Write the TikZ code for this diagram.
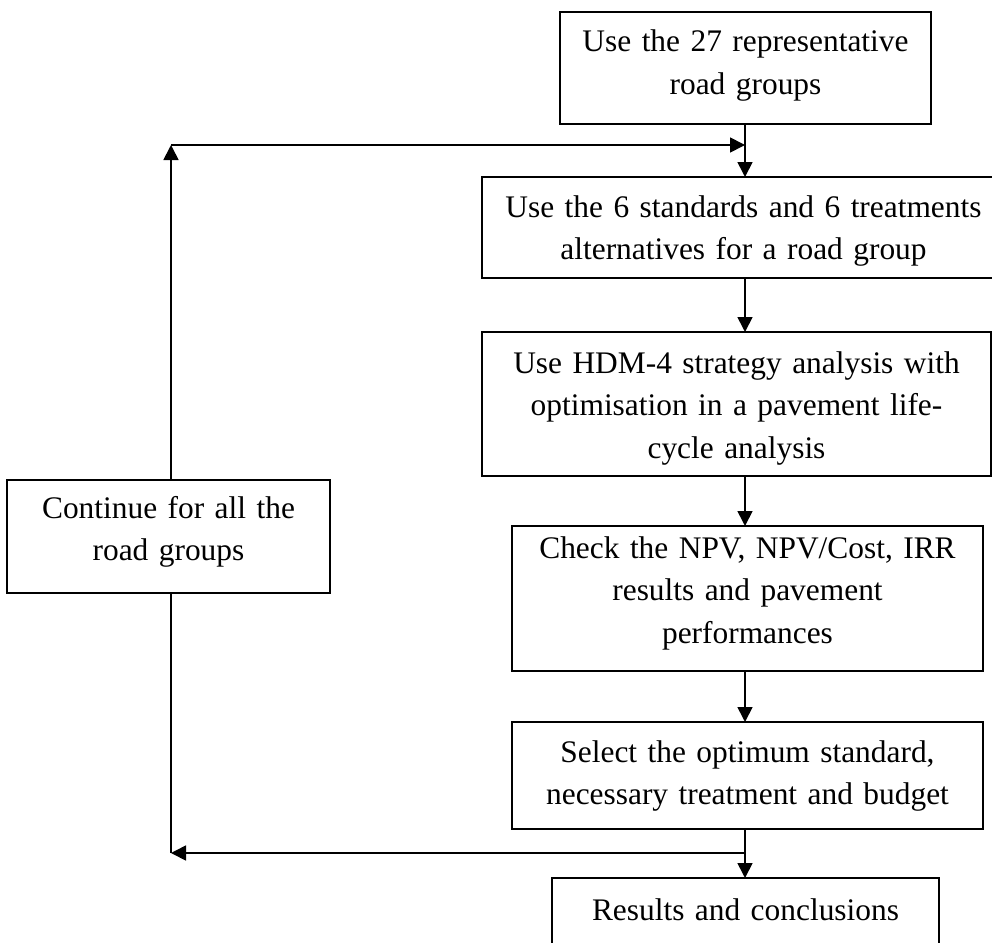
\documentclass[tikz,border=0pt]{standalone}
\usepackage{fontspec}
\setmainfont{Liberation Serif}
\usetikzlibrary{arrows.meta}
\begin{document}
\begin{tikzpicture}[x=1pt, y=-1pt,
  box/.style={draw, line width=1.7pt, inner sep=0pt, outer sep=0pt,
    align=center, anchor=north west, text height=40pt,
    font=\fontsize{31.4}{42.5}\selectfont},
  flow/.style={line width=1.7pt, -{Triangle[length=15pt, width=15pt]}},
  link/.style={line width=1.7pt}]
\useasboundingbox (0,0) rectangle (992,942);

% main column of steps
\node[box, text width=371pt, text depth=72pt]  (b1) at (560,12)  {Use the 27 representative\\road groups};
\node[box, text width=523pt, text depth=61pt]  (b2) at (482,177) {Use the 6 standards and 6 treatments\\alternatives for a road group};
\node[box, text width=509pt, text height=41pt, text depth=103pt] (b3) at (482,332) {Use HDM-4 strategy analysis with\\optimisation in a pavement life-\\cycle analysis};
\node[box, text width=471pt, text height=32pt, text depth=113pt] (b4) at (512,526) {Check the NPV, NPV/Cost, IRR\\results and pavement\\performances};
\node[box, text width=471pt, text depth=67pt]  (b5) at (512,722) {Select the optimum standard,\\necessary treatment and budget};
\node[box, text width=387pt, text height=42pt, text depth=26pt] (b6) at (552,878) {Results and conclusions};

% loop-back box
\node[box, text width=323pt, text height=38pt, text depth=75pt] (lb) at (7,480) {Continue for all the\\road groups};

% routing points
\coordinate (spine) at (745,0);
\coordinate (j1) at (745,145);
\coordinate (j2) at (745,853);
\coordinate (c1) at (171,145);
\coordinate (c2) at (171,853);

% downward flow
\draw[flow] (b1.south -| spine) -- (b2.north -| spine);
\draw[flow] (b2.south -| spine) -- (b3.north -| spine);
\draw[flow] (b3.south -| spine) -- (b4.north -| spine);
\draw[flow] (b4.south -| spine) -- (b5.north -| spine);
\draw[flow] (b5.south -| spine) -- (b6.north -| spine);

% loop
\draw[flow] (j2) -- (c2);
\draw[link] (c2) -- (lb.south -| c2);
\draw[flow] (lb.north -| c1) -- (c1);
\draw[flow] (c1) -- (j1);
\end{tikzpicture}
\end{document}
